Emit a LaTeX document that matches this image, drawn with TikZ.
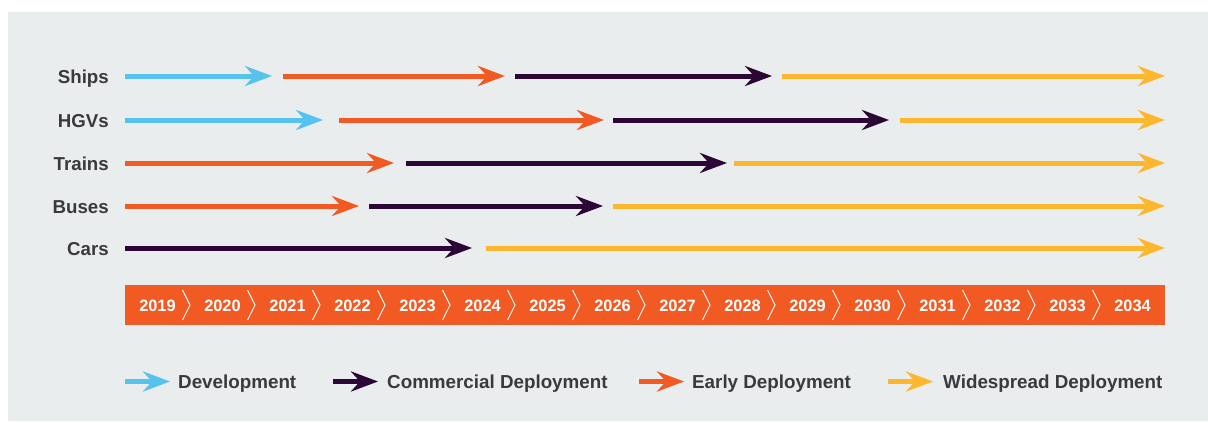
\documentclass[tikz,border=0pt]{standalone}
\usepackage{fontspec}
\setmainfont{Liberation Sans}
\usetikzlibrary{arrows.meta}
\definecolor{bg}{HTML}{E9EDEE}
\definecolor{cblue}{HTML}{55C3EE}
\definecolor{corange}{HTML}{F15A22}
\definecolor{cdark}{HTML}{2C0736}
\definecolor{cyellow}{HTML}{FDB72E}
\definecolor{ctext}{HTML}{3A3A3A}
\tikzset{
  seg/.style={line width=5pt, -{Stealth[length=27pt,width=20pt,inset=9pt]}},
  rowlabel/.style={anchor=base east, inner sep=0pt, text=ctext, font=\fontsize{18.7}{20}\selectfont\bfseries},
  leglabel/.style={anchor=base west, inner sep=0pt, text=ctext, font=\fontsize{18.8}{20}\selectfont\bfseries},
  yearlabel/.style={anchor=base, inner sep=0pt, text=white, font=\fontsize{16.4}{18}\selectfont\bfseries},
  chev/.style={draw=white, line width=0.9pt},
}
\begin{document}
\begin{tikzpicture}[x=1pt,y=-1pt]
\useasboundingbox (0,0) rectangle (1208,423);
\fill[bg] (8,12) rectangle (1208,421);
% row labels
\node[rowlabel] (ships) at (109,83) {Ships};
\node[rowlabel] (hgvs) at (109,127) {HGVs};
\node[rowlabel] (trains) at (109,170) {Trains};
\node[rowlabel] (buses) at (109,213) {Buses};
\node[rowlabel] (cars) at (109,255) {Cars};
% Ships
\draw[seg, cblue] (125,76) -- (272,76);
\draw[seg, corange] (283,76) -- (505,76);
\draw[seg, cdark] (515,76) -- (772,76);
\draw[seg, cyellow] (782,76) -- (1165,76);
% HGVs
\draw[seg, cblue] (125,120) -- (323,120);
\draw[seg, corange] (339,120) -- (604,120);
\draw[seg, cdark] (613,120) -- (889,120);
\draw[seg, cyellow] (900,120) -- (1165,120);
% Trains
\draw[seg, corange] (125,163) -- (394,163);
\draw[seg, cdark] (406,163) -- (727,163);
\draw[seg, cyellow] (734,163) -- (1165,163);
% Buses
\draw[seg, corange] (125,206) -- (359,206);
\draw[seg, cdark] (369,206) -- (603,206);
\draw[seg, cyellow] (613,206) -- (1165,206);
% Cars
\draw[seg, cdark] (125,248) -- (472,248);
\draw[seg, cyellow] (486,248) -- (1165,248);
% year bar
\fill[corange] (125,285) rectangle (1165,325);
\foreach \y [count=\i from 0] in {2019,...,2034} {
  \node[yearlabel] (y\y) at ({125+65*\i+32.5},311.5) {\y};
}
\foreach \i in {1,...,15} {
  \draw[chev] ({125+65*\i-7.5},290) -- ({125+65*\i},305) -- ({125+65*\i-7.5},320);
}
% legend
\draw[seg, cblue] (125,381.5) -- (170,381.5);
\node[leglabel] (ldev) at (178,388) {Development};
\draw[seg, cdark] (333,381.5) -- (378,381.5);
\node[leglabel] (lcom) at (387,388) {Commercial Deployment};
\draw[seg, corange] (639,381.5) -- (684,381.5);
\node[leglabel] (lear) at (692,388) {Early Deployment};
\draw[seg, cyellow] (888,381.5) -- (933,381.5);
\node[leglabel] (lwid) at (943,388) {Widespread Deployment};
\end{tikzpicture}
\end{document}
